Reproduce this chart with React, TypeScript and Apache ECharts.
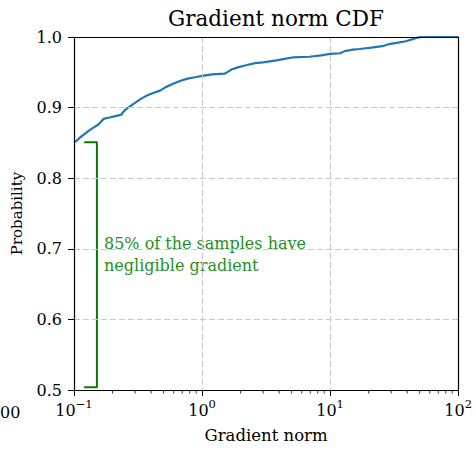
import React, { useEffect, useRef } from "react";
import * as echarts from "echarts";

const cdfX = [0.1, 0.105, 0.112, 0.12, 0.13, 0.14, 0.155, 0.17, 0.19, 0.21, 0.235, 0.245, 0.26, 0.29, 0.33, 0.37, 0.42, 0.47, 0.52, 0.6, 0.68, 0.77, 0.88, 1.0, 1.2, 1.5, 1.6, 1.7, 1.9, 2.2, 2.6, 3.0, 3.8, 4.4, 5.1, 6.9, 8.5, 10, 12, 13, 15, 17, 21, 25.6, 29, 34, 39, 44, 48, 52, 100];
const cdfY = [0.851, 0.853, 0.858, 0.862, 0.867, 0.871, 0.876, 0.884, 0.886, 0.888, 0.89, 0.895, 0.899, 0.905, 0.912, 0.917, 0.921, 0.924, 0.929, 0.934, 0.938, 0.941, 0.943, 0.945, 0.947, 0.948, 0.951, 0.954, 0.957, 0.96, 0.963, 0.964, 0.967, 0.969, 0.971, 0.972, 0.974, 0.976, 0.977, 0.98, 0.982, 0.983, 0.985, 0.987, 0.99, 0.992, 0.994, 0.997, 0.999, 1.0, 1.0];
const bracketX = [0.12, 0.151, 0.151, 0.12];
const bracketY = [0.851, 0.851, 0.504, 0.504];
const minorTicks = [0.2, 0.3, 0.4, 0.5, 0.6, 0.7, 0.8, 0.9, 2, 3, 4, 5, 6, 7, 8, 9, 20, 30, 40, 50, 60, 70, 80, 90];
const xExponents: Record<string, string> = { "0.1": "−1", "1": "0", "10": "1", "100": "2" };
const titleText = "Gradient norm CDF";
const xName = "Gradient norm";
const yName = "Probability";
const noteLines = ["85% of the samples have", "negligible gradient"];

const FONT = "DejaVu Serif";

export default function App() {
  const ref = useRef<HTMLDivElement>(null);
  useEffect(() => {
    document.body.style.margin = "0";
    if (!ref.current) return;
    const chart = echarts.init(ref.current, undefined, { renderer: "svg" });
    const frameAxis = {
      axisLine: { show: true, lineStyle: { color: "#000", width: 1.2 } },
      axisTick: { show: false },
      axisLabel: { show: false },
      splitLine: { show: false },
      z: 10,
    };
    const split = { show: true, showMinLine: false, showMaxLine: false, lineStyle: { color: "#c8c8c8", type: [6, 3], width: 1 } };
    chart.setOption({
      animation: false,
      textStyle: { fontFamily: FONT },
      title: {
        text: titleText,
        left: 271,
        top: 2,
        textAlign: "center",
        textStyle: { fontFamily: FONT, fontSize: 21.5, fontWeight: "normal", color: "#000" },
      },
      grid: { left: 74, right: 16, top: 37, bottom: 55 },
      xAxis: [
        {
          type: "log",
          logBase: 10,
          min: 0.1,
          max: 100,
          name: xName,
          nameLocation: "middle",
          nameGap: 37,
          nameTextStyle: { fontFamily: FONT, fontSize: 16.5, color: "#000" },
          axisLine: { lineStyle: { color: "#000", width: 1.2 } },
          axisTick: { show: true, inside: false, length: 6, lineStyle: { color: "#000" } },
          axisLabel: {
            margin: 8,
            color: "#000",
            formatter: (v: number) => {
              const key = String(Math.round(v * 1000) / 1000);
              return "{b|10}{s|" + (xExponents[key] ?? "") + "}";
            },
            rich: {
              b: { fontFamily: FONT, fontSize: 16, color: "#000", lineHeight: 20, verticalAlign: "bottom" },
              s: { fontFamily: FONT, fontSize: 11.5, color: "#000", lineHeight: 20, verticalAlign: "top" },
            },
          },
          splitLine: split,
          z: 10,
        },
        { type: "log", logBase: 10, min: 0.1, max: 100, position: "top", ...frameAxis },
      ],
      yAxis: [
        {
          type: "value",
          min: 0.5,
          max: 1.0,
          interval: 0.1,
          name: yName,
          nameLocation: "middle",
          nameGap: 50,
          nameTextStyle: { fontFamily: FONT, fontSize: 15, color: "#000" },
          axisLine: { show: true, lineStyle: { color: "#000", width: 1.2 } },
          axisTick: { show: true, inside: false, length: 6, lineStyle: { color: "#000" } },
          axisLabel: { color: "#000", fontFamily: FONT, fontSize: 16, margin: 12, formatter: (v: number) => v.toFixed(1) },
          splitLine: split,
          z: 10,
        },
        { type: "value", min: 0.5, max: 1.0, interval: 0.1, position: "right", ...frameAxis },
      ],
      graphic: [
        {
          type: "text",
          left: 104,
          top: 232,
          style: { text: noteLines.join("\n"), fill: "#1f8f1f", font: `16px "${FONT}"`, lineHeight: 22 },
        },
        {
          type: "text",
          left: 0,
          top: 404,
          style: { text: "00", fill: "#000", font: `16px "${FONT}"` },
        },
      ],
      series: [
        {
          type: "line",
          data: cdfX.map((x, i) => [x, cdfY[i]]),
          showSymbol: false,
          lineStyle: { color: "#1f77b4", width: 2.2 },
          clip: true,
          z: 3,
        },
        {
          type: "line",
          data: bracketX.map((x, i) => [x, bracketY[i]]),
          showSymbol: false,
          lineStyle: { color: "#008000", width: 2 },
          clip: false,
          z: 3,
        },
        {
          type: "custom",
          data: minorTicks.map((v) => [v, 0.5]),
          clip: false,
          renderItem: (params: any, api: any) => {
            const p = api.coord([api.value(0), 0.5]);
            return {
              type: "line",
              shape: { x1: p[0], y1: p[1], x2: p[0], y2: p[1] + 3.5 },
              style: { stroke: "#000", lineWidth: 0.8 },
            };
          },
        },
      ],
    });
    return () => chart.dispose();
  }, []);
  return <div ref={ref} style={{ width: 475, height: 449 }} />;
}
